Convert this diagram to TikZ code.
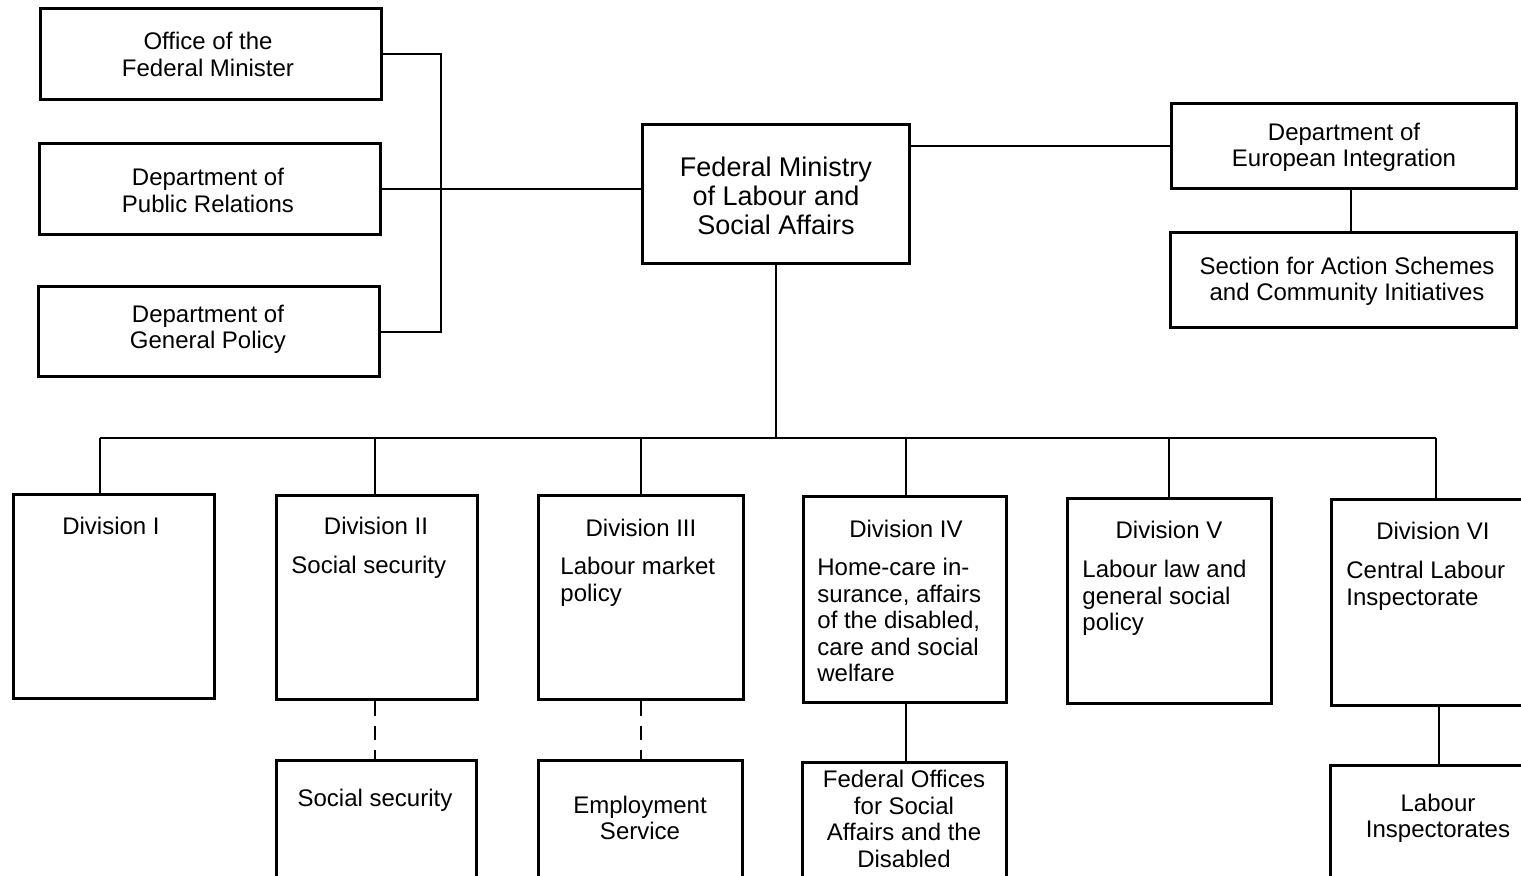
\documentclass[tikz,border=0pt]{standalone}
\usepackage{fontspec}
\setmainfont{Liberation Sans}
\begin{document}
\begin{tikzpicture}[x=0.5pt,y=-0.5pt,
  boxst/.style={draw, line width=1.5pt, rectangle, inner sep=0pt},
  txt/.style={inner sep=0pt, font=\fontsize{12}{13.25}\selectfont},
  ctxt/.style={txt, align=center},
  ltxt/.style={txt, align=left, anchor=north west},
  conn/.style={line width=1pt},
  dconn/.style={line width=1pt, dash pattern=on 7pt off 5pt}]
\useasboundingbox (0,0) rectangle (1521,876);
\clip (0,0) rectangle (1521,876);
\newcommand\mybox[5]{\node[boxst, minimum width={(#4-#2)*0.5pt}, minimum height={(#5-#3)*0.5pt}] (#1) at ({(#2+#4)/2},{(#3+#5)/2}) {};}
% top left
\mybox{office}{40}{9}{381}{100}
\mybox{pubrel}{39}{144}{380}{235}
\mybox{genpol}{38}{287}{379}{377}
\mybox{min}{642}{125}{909}{264}
\mybox{eu}{1171}{104}{1516}{189}
\mybox{sec}{1170}{233}{1516}{328}
% divisions
\mybox{d1}{13}{495}{214}{699}
\mybox{d2}{276}{496}{477}{700}
\mybox{d3}{538}{496}{743}{700}
\mybox{d4}{803}{497}{1006}{703}
\mybox{d5}{1067}{499}{1271}{704}
\mybox{d6}{1331}{500}{1541}{706}
% sub units
\mybox{s2}{276}{760}{476}{890}
\mybox{s3}{538}{760}{742}{890}
\mybox{s4}{802}{762}{1006}{890}
\mybox{s6}{1330}{765}{1546}{890}
% texts
\node[ctxt] (toffice) at (208,54.5) {Office of the\\Federal Minister};
\node[ctxt] (tpubrel) at (208,190.5) {Department of\\Public Relations};
\node[ctxt] (tgenpol) at (208,329.5) {Department of\\General Policy};
\node[txt, align=center, font=\fontsize{13.5}{14.5}\selectfont] (tmin) at (776,196) {Federal Ministry\\of Labour and\\Social Affairs};
\node[ctxt] (teu) at (1344,147.5) {Department of\\European Integration};
\node[ctxt] (tsec) at (1347,281.5) {Section for Action Schemes\\and Community Initiatives};
\node[ctxt] (h1) at (111,526) {Division I};
\node[ctxt] (h2) at (376,526) {Division II};
\node[ctxt] (h3) at (641,528) {Division III};
\node[ctxt] (h4) at (906,529) {Division IV};
\node[ctxt] (h5) at (1169,530) {Division V};
\node[ctxt] (h6) at (1433,531) {Division VI};
\node[ltxt] (b2) at (291,556) {Social security};
\node[ltxt] (b3) at (560,557) {Labour market\\policy};
\node[ltxt] (b4) at (817,558) {Home-care in-\\surance, affairs\\of the disabled,\\care and social\\welfare};
\node[ltxt] (b5) at (1082,560) {Labour law and\\general social\\policy};
\node[ltxt] (b6) at (1346,561) {Central Labour\\Inspectorate};
\node[ctxt] (ts2) at (375,800) {Social security};
\node[ctxt] (ts3) at (640,818) {Employment\\Service};
\node[ctxt] (ts4) at (904,819) {Federal Offices\\for Social\\Affairs and the\\Disabled};
\node[ctxt] (ts6) at (1438,818.5) {Labour\\Inspectorates};
% connectors
\coordinate (jl) at (441,0);
\draw[conn] (office.east) -| (jl |- genpol.east) -- (genpol.east);
\draw[conn] (pubrel.east) -- (pubrel.east -| min.west);
\draw[conn] (eu.west) -- (eu.west -| min.east);
\coordinate (ex) at (1351,0);
\draw[conn] (ex |- eu.south) -- (ex |- sec.north);
\coordinate (busL) at (100,438);
\coordinate (busR) at (1436,438);
\draw[conn] (busL) -- (busR);
\draw[conn] (min.south) -- (min.south |- busL);
\coordinate (t1) at (100,0);
\coordinate (t2) at (375,0);
\coordinate (t3) at (641,0);
\coordinate (t4) at (906,0);
\coordinate (t5) at (1169,0);
\coordinate (t6) at (1436,0);
\draw[conn] (t1 |- busL) -- (t1 |- d1.north);
\draw[conn] (t2 |- busL) -- (t2 |- d2.north);
\draw[conn] (t3 |- busL) -- (t3 |- d3.north);
\draw[conn] (t4 |- busL) -- (t4 |- d4.north);
\draw[conn] (t5 |- busL) -- (t5 |- d5.north);
\draw[conn] (t6 |- busL) -- (t6 |- d6.north);
\draw[dconn] (t2 |- d2.south) -- (t2 |- s2.north);
\draw[dconn] (t3 |- d3.south) -- (t3 |- s3.north);
\draw[conn] (t4 |- d4.south) -- (t4 |- s4.north);
\coordinate (t7) at (1439,0);
\draw[conn] (t7 |- d6.south) -- (t7 |- s6.north);
\end{tikzpicture}
\end{document}
